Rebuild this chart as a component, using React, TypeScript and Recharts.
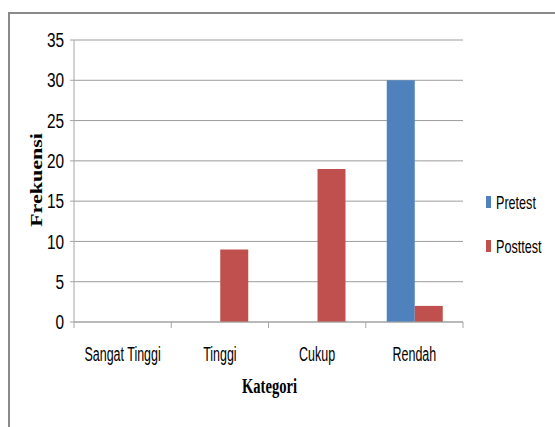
import { Bar, BarChart, CartesianGrid, Legend, XAxis, YAxis } from "recharts";

const CATEGORIES = ["Sangat Tinggi", "Tinggi", "Cukup", "Rendah"];
const PRETEST = [0, 0, 0, 30];
const POSTTEST = [0, 9, 19, 2];
const Y_TICKS = [0, 5, 10, 15, 20, 25, 30, 35];

const SERIES = [
  { key: "pretest", name: "Pretest", color: "#4F81BD" },
  { key: "posttest", name: "Posttest", color: "#C0504D" },
];

const data = CATEGORIES.map((name, i) => ({
  name,
  pretest: PRETEST[i],
  posttest: POSTTEST[i],
}));

const SANS = '"Liberation Sans", Arial, sans-serif';
const SERIF = '"Liberation Serif", "Times New Roman", serif';
const AXIS_GRAY = "#a6a6a6";
const GRID_GRAY = "#9c9c9c";

// the source picture is squeezed sideways, so text is scaled on x only
function XTick(props: any) {
  const { x, y, payload, index } = props;
  const half = payload?.offset ?? 0;
  const last = index === CATEGORIES.length - 1;
  return (
    <g>
      <line x1={x - half} x2={x - half} y1={y} y2={y + 6} stroke={AXIS_GRAY} />
      {last && (
        <line x1={x + half} x2={x + half} y1={y} y2={y + 6} stroke={AXIS_GRAY} />
      )}
      <text
        transform={`translate(${x},${y + 39}) scale(0.594,1)`}
        textAnchor="middle"
        fontFamily={SANS}
        fontSize={21}
        fill="#000"
      >
        {payload.value}
      </text>
    </g>
  );
}

function YTick(props: any) {
  const { x, y, payload } = props;
  return (
    <text
      transform={`translate(${x},${y}) scale(0.77,1)`}
      dy={7.2}
      textAnchor="end"
      fontFamily={SANS}
      fontSize={20}
      fill="#000"
    >
      {payload.value}
    </text>
  );
}

function FrekLabel(props: any) {
  const vb = props.viewBox ?? { x: 14, y: 40, width: 60, height: 282 };
  return (
    <text
      transform={`translate(${vb.x + 27.5},${vb.y + vb.height / 2 - 1}) scale(0.72,1) rotate(-90)`}
      textAnchor="middle"
      fontFamily={SERIF}
      fontWeight="bold"
      fontSize={22}
      fill="#000"
    >
      Frekuensi
    </text>
  );
}

function KategoriLabel(props: any) {
  const vb = props.viewBox ?? { x: 74, y: 322, width: 389, height: 105 };
  return (
    <text
      transform={`translate(${vb.x + vb.width / 2 + 1},${vb.y + 71}) scale(0.73,1)`}
      textAnchor="middle"
      fontFamily={SERIF}
      fontWeight="bold"
      fontSize={20}
      fill="#000"
    >
      Kategori
    </text>
  );
}

function LegendBox() {
  return (
    <svg width={66} height={60} style={{ overflow: "visible" }}>
      {SERIES.map((s, i) => (
        <g key={s.key}>
          <rect x={2} y={i * 44} width={5} height={12} fill={s.color} />
          <text
            x={12}
            y={i * 44 + 12.5}
            textLength={s.name.length * 5.7}
            lengthAdjust="spacingAndGlyphs"
            fontFamily={SANS}
            fontSize={19}
            fill="#000"
          >
            {s.name}
          </text>
        </g>
      ))}
    </svg>
  );
}

export default function App() {
  return (
    <div
      style={{
        position: "fixed",
        left: 0,
        top: 0,
        width: 555,
        height: 427,
        overflow: "hidden",
        background: "#fff",
      }}
    >
      <div
        style={{
          position: "absolute",
          left: 8,
          top: 12,
          width: 600,
          height: 500,
          border: "2px solid #8a8a8a",
        }}
      />
      <div style={{ position: "absolute", left: 0, top: 0 }}>
        <BarChart
          width={555}
          height={427}
          data={data}
          margin={{ top: 40, right: 92, bottom: 0, left: 14 }}
          barCategoryGap="21.6%"
          barGap={0}
        >
          <CartesianGrid vertical={false} stroke={GRID_GRAY} />
          <XAxis
            dataKey="name"
            height={105}
            interval={0}
            tickSize={0}
            tickMargin={0}
            tickLine={false}
            axisLine={{ stroke: AXIS_GRAY }}
            tick={<XTick />}
            label={<KategoriLabel />}
          />
          <YAxis
            width={60}
            domain={[0, 35]}
            ticks={Y_TICKS}
            interval={0}
            tickSize={4}
            tickMargin={6}
            tickLine={{ stroke: AXIS_GRAY }}
            axisLine={{ stroke: AXIS_GRAY }}
            tick={<YTick />}
            label={<FrekLabel />}
          />
          <Legend
            layout="vertical"
            align="center"
            verticalAlign="middle"
            content={<LegendBox />}
            wrapperStyle={{ left: 484, top: 196, width: 66, height: 60 }}
          />
          {SERIES.map((s) => (
            <Bar
              key={s.key}
              dataKey={s.key}
              name={s.name}
              fill={s.color}
              isAnimationActive={false}
            />
          ))}
        </BarChart>
      </div>
    </div>
  );
}
